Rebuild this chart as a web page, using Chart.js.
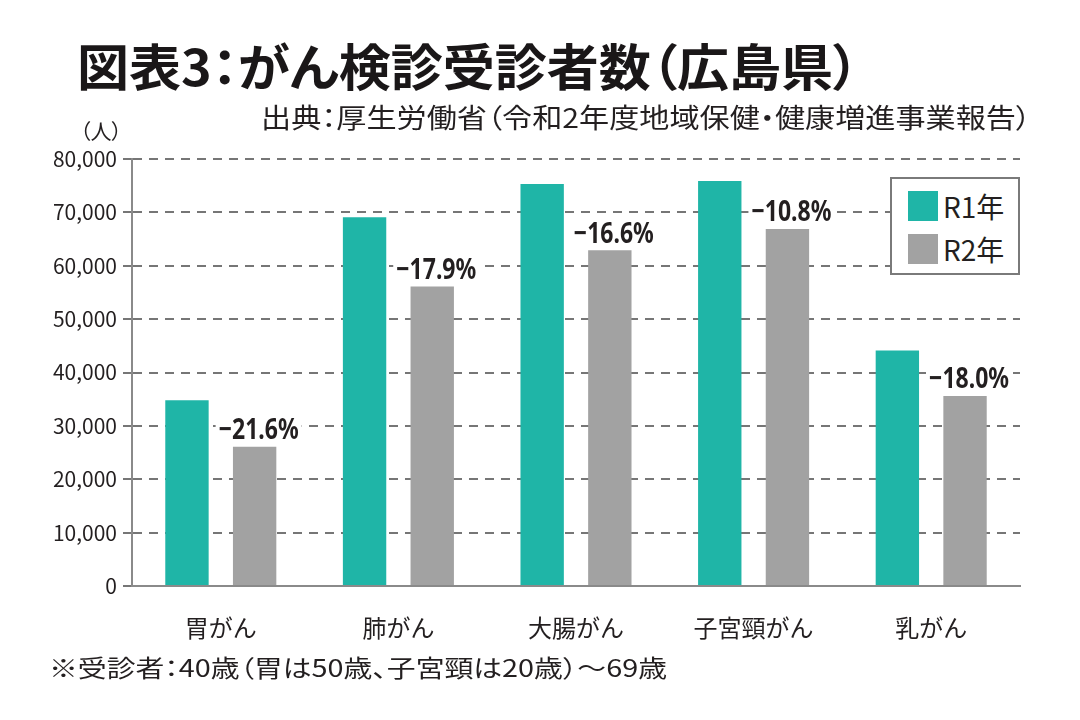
<!DOCTYPE html>
<html lang="ja">
<head>
<meta charset="utf-8">
<title>がん検診受診者数（広島県）</title>
<script src="https://cdn.jsdelivr.net/npm/chart.js@4.4.1/dist/chart.umd.min.js"></script>
<style>
  html, body { margin: 0; padding: 0; background: #fff; }
  #wrap {
    position: relative; width: 1080px; height: 720px; overflow: hidden;
    font-family: "Noto Sans CJK JP", "Noto Sans", sans-serif; color: #231f20;
  }
  #chart { position: absolute; left: 0; top: 0; }
  .txt {
    position: absolute; white-space: nowrap; line-height: 1; transform-origin: 0 50%;
    font-feature-settings: "palt" 1;
  }
  #title { left: 77px; top: 39px; font-size: 50px; font-weight: 700; color: #1a1718; }
  #source { left: 261px; top: 103px; font-size: 27px; }
  #unit { left: 80px; top: 120px; font-size: 21px; }
  #note { left: 49px; top: 655px; font-size: 24px; }
  #legend {
    position: absolute; left: 890px; top: 177px; width: 126px; height: 94px;
    border: 2px solid #7a7a7a; background: #fff;
  }
  .item { position: absolute; left: 16px; height: 30px; display: flex; align-items: center; font-size: 28px; }
  .item span.sw { width: 30px; height: 30px; margin-right: 5px; display: inline-block; }
</style>
</head>
<body>
<div id="wrap">
  <canvas id="chart" width="1080" height="720"></canvas>
  <div class="txt" id="title">図表3：がん検診受診者数（広島県）</div>
  <div class="txt" id="source">出典：厚生労働省（令和2年度地域保健・健康増進事業報告）</div>
  <div class="txt" id="unit">（人）</div>
  <div class="txt" id="note">※受診者：40歳（胃は50歳、子宮頸は20歳）～69歳</div>
  <div id="legend"></div>
</div>
<script>
// data
const categories = ['胃がん', '肺がん', '大腸がん', '子宮頸がん', '乳がん'];
const seriesNames = ['R1年', 'R2年'];
const r1Values = [34800, 69100, 75300, 75900, 44100];
const r2Values = [26100, 56100, 62900, 66900, 35600];
const changeLabels = ['−21.6%', '−17.9%', '−16.6%', '−10.8%', '−18.0%'];

const colors = ['#1fb5a7', '#a2a2a2'];
const gridColor = '#767676';
const axisColor = '#8a8a8a';
const textColor = '#231f20';

// legend box (html, sits over the plot)
const legendEl = document.getElementById('legend');
seriesNames.forEach((name, i) => {
  const item = document.createElement('div');
  item.className = 'item';
  item.style.top = (12 + i * 43) + 'px';
  item.innerHTML = `<span class="sw" style="background:${colors[i]}"></span>${name}`;
  legendEl.appendChild(item);
});

// percentage labels above the R2 bars, on a white patch so the grid breaks
const changeLabelPlugin = {
  id: 'changeLabels',
  afterDatasetsDraw(chart) {
    const meta = chart.getDatasetMeta(1);
    const ctx = chart.ctx;
    ctx.save();
    ctx.font = '700 29px "Noto Sans", sans-serif';
    ctx.textAlign = 'center';
    ctx.textBaseline = 'alphabetic';
    meta.data.forEach((bar, i) => {
      const text = changeLabels[i];
      const w = Math.min(ctx.measureText(text).width, 80);
      const cx = bar.x + 4;
      const cy = bar.y - 18;
      ctx.fillStyle = '#fff';
      ctx.fillRect(cx - w / 2 - 3, cy - 14, w + 6, 28);
      ctx.fillStyle = textColor;
      ctx.fillText(text, cx, cy + 10.4, 80);
    });
    ctx.restore();
  }
};

const ctx = document.getElementById('chart').getContext('2d');
new Chart(ctx, {
  type: 'bar',
  data: {
    labels: categories,
    datasets: [
      { label: seriesNames[0], data: r1Values, backgroundColor: colors[0] },
      { label: seriesNames[1], data: r2Values, backgroundColor: colors[1] }
    ]
  },
  options: {
    responsive: false,
    animation: false,
    events: [],
    datasets: { bar: { categoryPercentage: 0.762, barPercentage: 0.641 } },
    layout: { padding: { top: 159, left: 0, right: 60, bottom: 0 } },
    plugins: { legend: { display: false }, tooltip: { enabled: false } },
    scales: {
      x: {
        afterFit: s => { s.height = 134; },
        grid: { display: false, drawTicks: false },
        border: { display: true, color: axisColor, width: 2 },
        ticks: {
          color: textColor, padding: 27,
          font: { family: '"Noto Sans CJK JP", sans-serif', size: 24 }
        }
      },
      y: {
        min: 0, max: 80000,
        afterFit: s => { s.width = 132; },
        grid: { color: gridColor, lineWidth: 2, tickLength: 9, tickColor: gridColor, tickWidth: 2 },
        border: { display: true, color: axisColor, width: 2, dash: [9, 7] },
        ticks: {
          stepSize: 10000, padding: 6, color: textColor,
          font: { family: '"Noto Sans CJK JP", sans-serif', size: 21 },
          callback: v => v.toLocaleString('en-US')
        }
      }
    }
  },
  plugins: [changeLabelPlugin]
});

// squeeze the headline texts to the widths seen in the reference
function fitText(id, visibleWidth) {
  const el = document.getElementById(id);
  el.style.transform = 'none';
  const w = el.getBoundingClientRect().width;
  el.style.transform = `scaleX(${visibleWidth / w})`;
}
function fitAll() {
  fitText('title', 782);
  fitText('source', 770);
  fitText('note', 618);
}
fitAll();
if (document.fonts) document.fonts.ready.then(fitAll);
</script>
</body>
</html>
